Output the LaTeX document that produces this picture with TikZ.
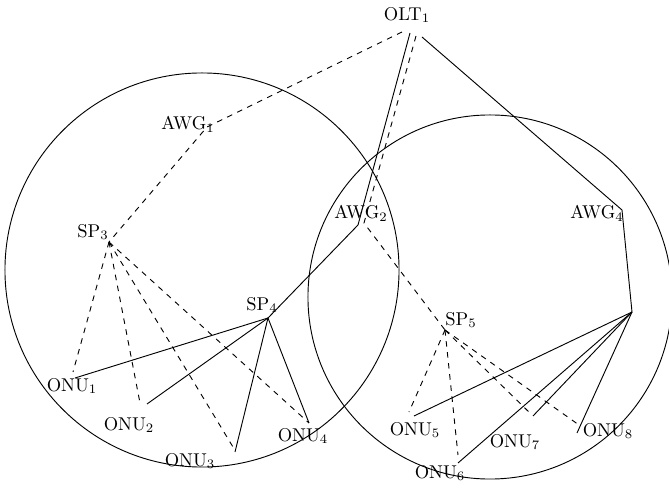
\documentclass[tikz,border=0pt]{standalone}
\begin{document}
\begin{tikzpicture}[x=0.54pt,y=-0.54pt,
  lbl/.style={inner sep=0pt},
  fiber/.style={line width=0.5pt},
  split/.style={line width=0.5pt,dashed}]
\useasboundingbox (0,0) rectangle (669,488);
% circles
\coordinate (cl) at (202,270);
\coordinate (cr) at (490,297);
\draw[line width=0.5pt] (cl) circle[radius=106.4pt];
\draw[line width=0.5pt] (cr) circle[radius=98.3pt];
% labels
\node[lbl] (olt) at (407,15) {OLT$_1$};
\node[lbl] (awg1) at (188,124) {AWG$_1$};
\node[lbl] (sp3) at (93,232) {SP$_3$};
\node[lbl] (awg2) at (361,213) {AWG$_2$};
\node[lbl] (awg4) at (597,213) {AWG$_4$};
\node[lbl] (sp4) at (262,305) {SP$_4$};
\node[lbl] (sp5) at (461,320) {SP$_5$};
\node[lbl] (onu1) at (72,386) {ONU$_1$};
\node[lbl] (onu2) at (129,425) {ONU$_2$};
\node[lbl] (onu3) at (190,461) {ONU$_3$};
\node[lbl] (onu4) at (303,436) {ONU$_4$};
\node[lbl] (onu5) at (415,430) {ONU$_5$};
\node[lbl] (onu6) at (440,473) {ONU$_6$};
\node[lbl] (onu7) at (515,442) {ONU$_7$};
\node[lbl] (onu8) at (608,431) {ONU$_8$};
% connection points
\coordinate (oltd1) at (402,32);
\coordinate (olts1) at (410,33);
\coordinate (oltd2) at (416,36);
\coordinate (olts2) at (422,37);
\coordinate (pawg1) at (207,127);
\coordinate (psp3) at (109,242);
\coordinate (pawg2s) at (358,225);
\coordinate (pawg2d) at (364,223);
\coordinate (psp4) at (268,318);
\coordinate (psp5) at (445,330);
\coordinate (pawg4) at (622,210);
\coordinate (px) at (632,312);
\coordinate (ponu1d) at (73,372);
\coordinate (ponu1s) at (75,378);
\coordinate (ponu2d) at (140,403);
\coordinate (ponu2s) at (147,404);
\coordinate (ponu3d) at (233,447);
\coordinate (ponu3s) at (235,452);
\coordinate (ponu4) at (309,423);
\coordinate (ponu5d) at (409,412);
\coordinate (ponu5s) at (414,416);
\coordinate (ponu6d) at (458,455);
\coordinate (ponu6s) at (458,463);
\coordinate (ponu7d) at (532,415);
\coordinate (ponu7s) at (533,416);
\coordinate (ponu8d) at (579,425);
\coordinate (ponu8s) at (577,433);
% dashed tree via AWG1
\draw[split] (oltd1) -- (pawg1) -- (psp3);
\foreach \t in {ponu1d,ponu2d,ponu3d,ponu4}
  \draw[split] (psp3) -- (\t);
% solid tree via AWG2
\draw[fiber] (olts1) -- (pawg2s) -- (psp4);
\foreach \t in {ponu1s,ponu2s,ponu3s,ponu4}
  \draw[fiber] (psp4) -- (\t);
% dashed tree via AWG2
\draw[split] (oltd2) -- (pawg2d) -- (psp5);
\foreach \t in {ponu5d,ponu6d,ponu7d,ponu8d}
  \draw[split] (psp5) -- (\t);
% solid tree via AWG4
\draw[fiber] (olts2) -- (pawg4) -- (px);
\foreach \t in {ponu5s,ponu6s,ponu7s,ponu8s}
  \draw[fiber] (px) -- (\t);
\end{tikzpicture}
\end{document}
